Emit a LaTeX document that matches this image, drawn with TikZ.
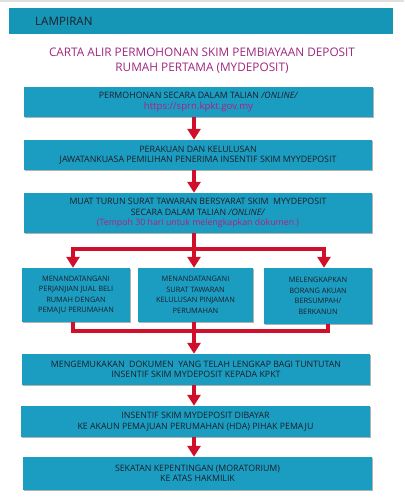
\documentclass[tikz,border=0pt]{standalone}
\usepackage{fontspec}
\setmainfont{Open Sans}
\usetikzlibrary{arrows.meta,shadows}
\definecolor{boxblue}{RGB}{27,157,193}
\definecolor{headblue}{RGB}{22,150,182}
\definecolor{arrowred}{RGB}{208,16,42}
\definecolor{mag}{RGB}{176,30,130}
\definecolor{titlemag}{RGB}{160,38,125}
\definecolor{txt}{RGB}{28,30,40}
\begin{document}
\begin{tikzpicture}[x=1pt,y=-1pt,
  box/.style={fill=boxblue, inner sep=0pt, align=center, text=txt,
    font=\fontsize{8.8}{10.5}\selectfont,
    general shadow={fill=black!30, shadow xshift=0.6pt, shadow yshift=-1.2pt}},
  smallbox/.style={box, font=\fontsize{7.4}{10.6}\selectfont},
  redline/.style={draw=arrowred, line width=4pt},
  redarrow/.style={redline, -{Triangle[width=13pt,length=11pt]}}]
\useasboundingbox (0,0) rectangle (404,502);
\fill[black!12] (0,0) rectangle (404,2);
% header
\node[fill=headblue, minimum width=384pt, minimum height=26pt, inner sep=0pt] (head) at (201,21) {};
\node[anchor=west, text=txt, font=\fontsize{11.6}{12}\selectfont, inner sep=0pt] (lamp) at (35,21) {LAMPIRAN};
\node[text=titlemag, align=center, font=\fontsize{11.8}{15}\selectfont, inner sep=0pt] (title) at (202,60.5)
  {CARTA ALIR PERMOHONAN SKIM PEMBIAYAAN DEPOSIT\\RUMAH PERTAMA (MYDEPOSIT)};
% main boxes
\node[box, minimum width=349pt, minimum height=30pt] (b1) at (198.5,102)
  {PERMOHONAN SECARA DALAM TALIAN \textit{/ONLINE/}\\{\fontsize{9.6}{10.5}\selectfont\color{mag}https://sprn.kpkt.gov.my}};
\node[box, minimum width=348pt, minimum height=30pt] (b2) at (198,155)
  {PERAKUAN DAN KELULUSAN\\JAWATANKUASA PEMILIHAN PENERIMA INSENTIF SKIM MYYDEPOSIT};
\node[box, minimum width=348pt, minimum height=40pt] (b3) at (198,213)
  {MUAT TURUN SURAT TAWARAN BERSYARAT SKIM \ MYYDEPOSIT\\SECARA DALAM TALIAN \textit{/ONLINE/}\\{\color{mag}(Tempoh 30 hari untuk melengkapkan dokumen )}};
\node[smallbox, minimum width=108pt, minimum height=54pt] (ba) at (76,295)
  {MENANDATANGANI\\PERJANJIAN JUAL BELI\\RUMAH DENGAN\\PEMAJU PERUMAHAN};
\node[smallbox, minimum width=115pt, minimum height=54pt] (bb) at (195.5,295)
  {MENANDATANGANI\\SURAT TAWARAN\\KELULUSAN PINJAMAN\\PERUMAHAN};
\node[smallbox, minimum width=108pt, minimum height=56pt] (bc) at (318,296)
  {MELENGKAPKAN\\BORANG AKUAN\\BERSUMPAH/\\BERKANUN};
\node[box, minimum width=348pt, minimum height=31pt] (b4) at (196,369.5)
  {MENGEMUKAKAN \ DOKUMEN \ YANG TELAH LENGKAP BAGI TUNTUTAN\\INSENTIF SKIM MYDEPOSIT KEPADA KPKT};
\node[box, minimum width=349pt, minimum height=31pt] (b5) at (195.5,421.5)
  {INSENTIF SKIM MYDEPOSIT DIBAYAR\\KE AKAUN PEMAJUAN PERUMAHAN (HDA) PIHAK PEMAJU};
\node[box, minimum width=349pt, minimum height=33pt] (b6) at (197.5,473.5)
  {SEKATAN KEPENTINGAN (MORATORIUM)\\KE ATAS HAKMILIK};
% guide coordinates
\coordinate (mid) at (194,249);
\coordinate (ax) at (73,249);
\coordinate (cx) at (324,249);
\coordinate (jmid) at (194,331);
\coordinate (ja) at (73,331);
\coordinate (jc) at (328,331);
% arrows
\draw[redarrow] (b1.south -| mid) -- (b2.north -| mid);
\draw[redarrow] (b2.south -| mid) -- (b3.north -| mid);
\draw[redline] (b3.south -| mid) -- (mid);
\draw[redline, line cap=rect] (ax) -- (cx);
\draw[redarrow] (ax) -- (ba.north -| ax);
\draw[redarrow] (mid) -- (bb.north -| mid);
\draw[redarrow] (cx) -- (bc.north -| cx);
\draw[redline] (ba.south -| ja) -- (ja);
\draw[redline] (bc.south -| jc) -- (jc);
\draw[redline] (bb.south -| jmid) -- (jmid);
\draw[redline, line cap=rect] (ja) -- (jc);
\draw[redarrow] (jmid) -- (b4.north -| jmid);
\draw[redarrow] (b4.south -| mid) -- (b5.north -| mid);
\draw[redarrow] (b5.south -| mid) -- (b6.north -| mid);
\end{tikzpicture}
\end{document}
